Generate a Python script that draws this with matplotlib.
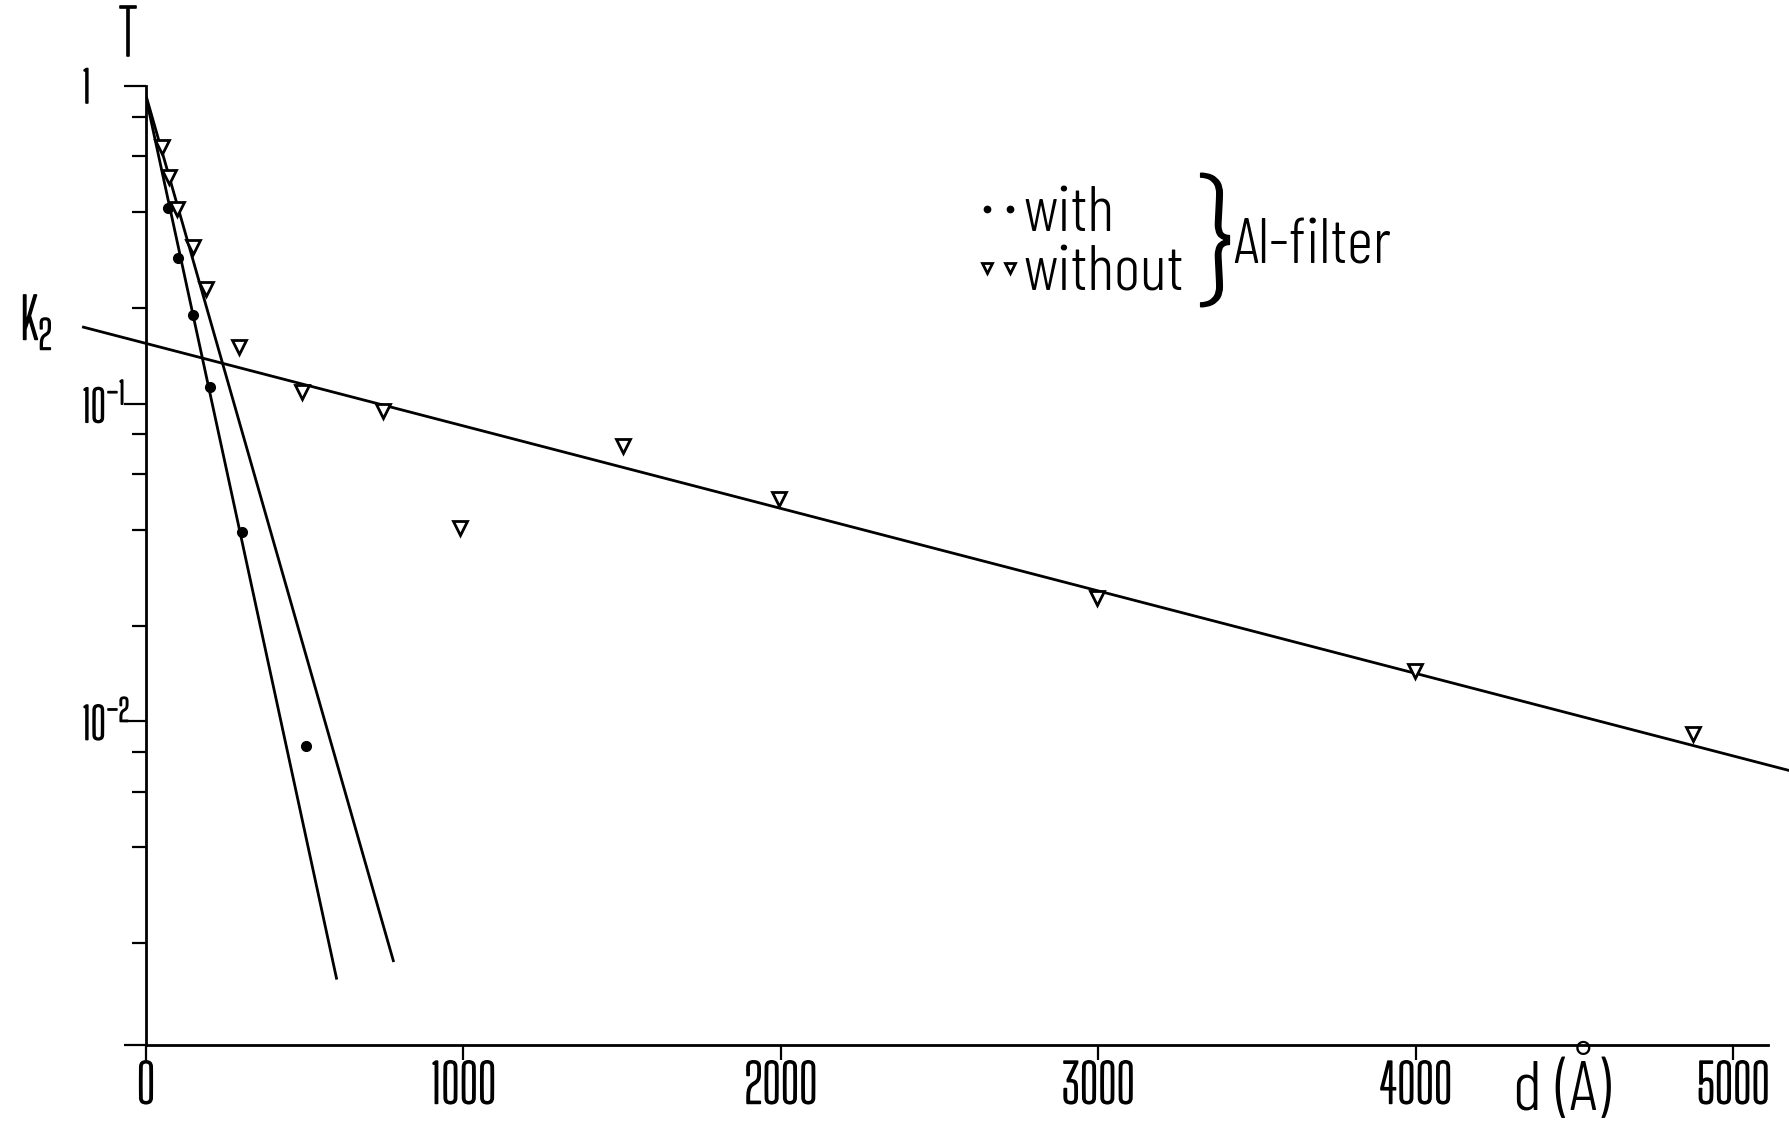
import numpy as np
from matplotlib import pyplot as plt
from matplotlib import patheffects
from matplotlib.ticker import FixedLocator, NullFormatter

plt.rcParams['font.family'] = ['Big Shoulders Text', 'Liberation Sans', 'DejaVu Sans']
words = ['Barlow Condensed', 'Liberation Sans', 'DejaVu Sans']

# measured points: layer thickness d (Angstrom) and transmission T
d_with = [70, 102, 149, 202, 301, 504]
T_with = [0.413, 0.288, 0.190, 0.1125, 0.0395, 0.00834]

d_without = [49, 73, 97, 147, 189, 294, 490, 745, 989, 1501, 1993, 2996, 3996, 4873]
T_without = [0.641, 0.516, 0.410, 0.312, 0.229, 0.151, 0.109, 0.0946,
             0.0405, 0.0733, 0.0500, 0.0245, 0.0144, 0.0091]

# straight fit lines (end points as drawn)
fit_with_d = [0, 600]
fit_with_T = [0.92, 0.00155]
fit_without_d = [0, 779]
fit_without_T = [0.933, 0.00176]
fit_k2_d = [-197, 5178]
fit_k2_T = [0.174, 0.00698]

x_ticks = [0, 1000, 2000, 3000, 4000, 5000]
x_ticklabels = ['0', '1000', '2000', '3000', '4000', '5000']
y_ticks = [1e-2, 1e-1, 1]
y_ticklabels = [r'$\mathregular{10^{-2}}$', r'$\mathregular{10^{-1}}$', '1']
y_minor = [0.002, 0.004, 0.006, 0.008, 0.02, 0.04, 0.06, 0.08, 0.2, 0.4, 0.6, 0.8]

W, H = 1790, 1128
fig = plt.figure(figsize=(W / 100, H / 100), dpi=100)
ax = fig.add_axes([146 / W, 1 - 1045 / H, (1768 - 146) / W, (1045 - 86) / H])

ymin = 10 ** -3.02
ax.set_yscale('log')
ax.set_xlim(0, 5109)
ax.set_ylim(ymin, 1)

# fit lines
ax.plot(fit_with_d, fit_with_T, color='black', lw=2)
ax.plot(fit_without_d, fit_without_T, color='black', lw=2)
ax.plot(fit_k2_d, fit_k2_T, color='black', lw=2, clip_on=False)

# data
dots, = ax.plot(d_with, T_with, ls='none', marker='o', ms=7, color='black', zorder=3)
tris, = ax.plot(d_without, T_without, ls='none', marker='v', ms=10,
                mfc='white', mec='black', mew=2, zorder=3)

# axes look
for s in ['top', 'right']:
    ax.spines[s].set_visible(False)
for s in ['left', 'bottom']:
    ax.spines[s].set_linewidth(2)

ax.set_xticks(x_ticks, labels=x_ticklabels)
ax.set_yticks([ymin] + y_ticks, labels=[''] + y_ticklabels)
ax.yaxis.set_minor_locator(FixedLocator(y_minor))
ax.yaxis.set_minor_formatter(NullFormatter())
ax.tick_params(axis='x', direction='out', length=10.8, width=1.6, pad=1, labelsize=38)
ax.tick_params(axis='y', which='major', direction='out', length=16, width=1.6, pad=30, labelsize=31)
ax.tick_params(axis='y', which='minor', direction='out', length=10, width=1.6)
plt.setp(ax.get_yticklabels(), ha='left')

ax.set_xlabel('d (Å)', fontsize=50, family=words, fontweight=300)
ax.xaxis.set_label_coords((1562 - 146) / 1622, (1045 - 1085) / 959)
ax.xaxis.label.set_va('center')

ax.set_ylabel('T', rotation=0, fontsize=45, va='center', ha='center')
ax.yaxis.set_label_coords((128 - 146) / 1622, (1045 - 37) / 959)

k2 = fig.text(36 / W, 1 - 322 / H, r'$\mathregular{K_2}$', fontsize=40, ha='center', va='center')

# the thin narrow font gets a little weight to look like the pen lettering
heavier = [patheffects.withStroke(linewidth=1.2, foreground='black')]
for t in ax.get_xticklabels() + ax.get_yticklabels() + [ax.yaxis.label, k2]:
    t.set_path_effects(heavier)

# legend with brace
ax.legend([dots, tris], ['with', 'without'], numpoints=2, markerscale=0.65, frameon=False,
          prop={'family': words, 'size': 46, 'weight': 300},
          handlelength=0.96, handletextpad=-0.1, labelspacing=0.02,
          borderpad=0, borderaxespad=0, loc='upper left',
          bbox_to_anchor=(968 / W, 1 - 186 / H), bbox_transform=fig.transFigure)
fig.text(1215 / W, 1 - 240 / H, '}', fontsize=96, ha='center', va='center',
         path_effects=heavier)
fig.text(1233 / W, 1 - 263 / H, 'Al-filter', fontsize=46, family=words, fontweight=300,
         ha='left', va='baseline')

fig.savefig('out.png', dpi=100)
